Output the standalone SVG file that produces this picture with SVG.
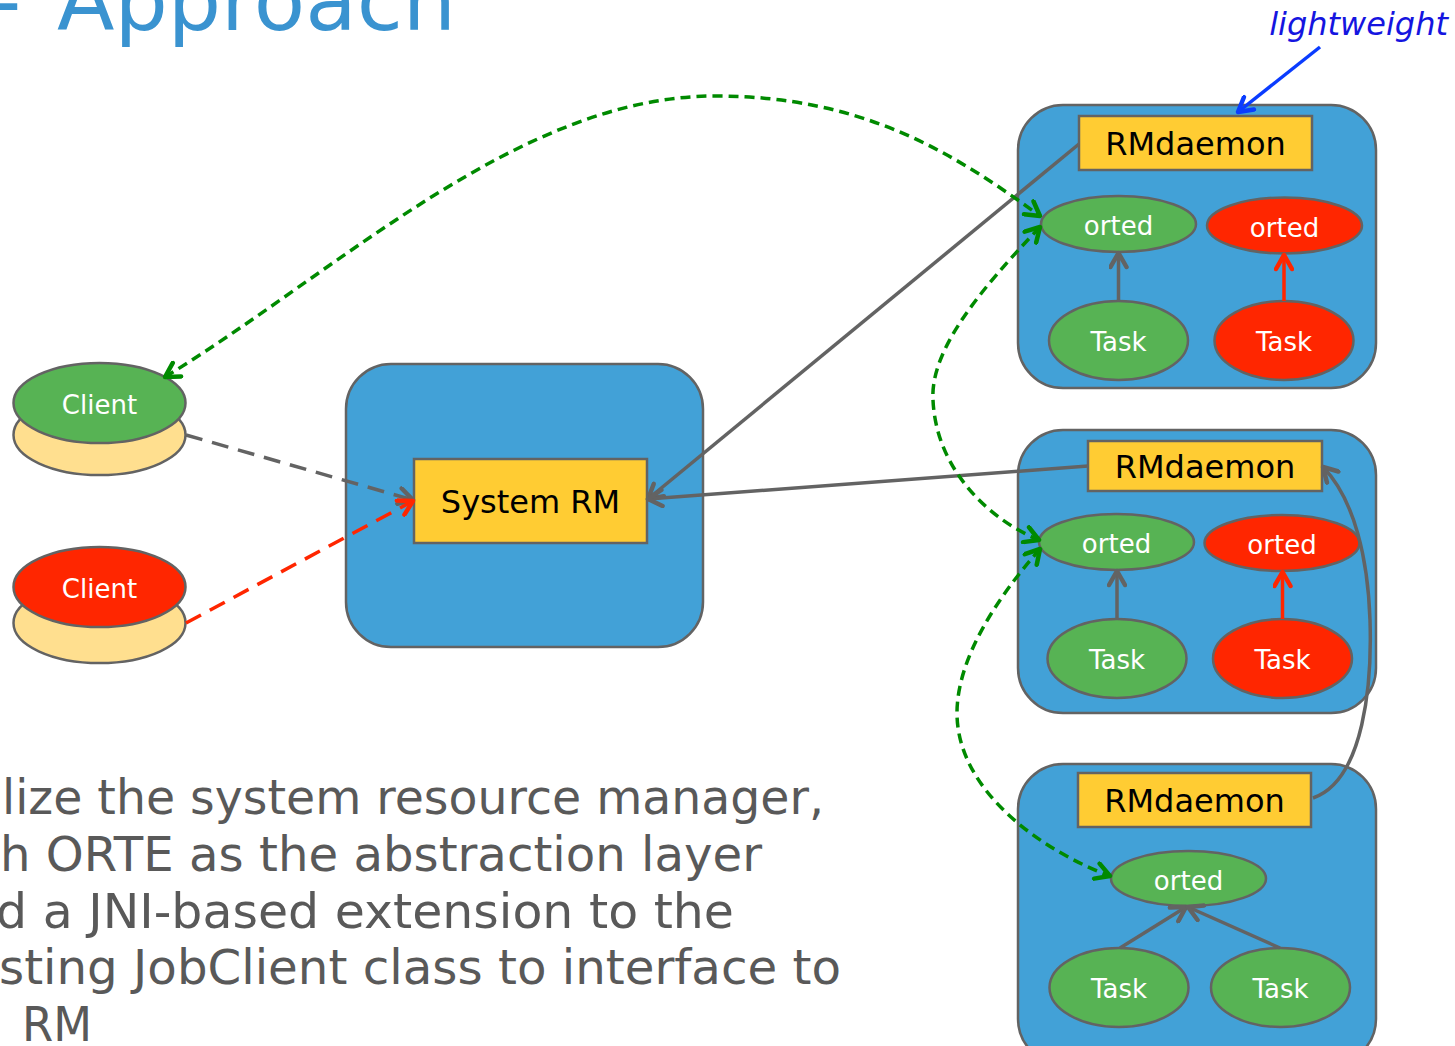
<svg xmlns="http://www.w3.org/2000/svg" width="1455" height="1046" viewBox="0 0 1455 1046">
<style>
.cont{fill:#42A1D7;stroke:#636363;stroke-width:2.5}
.lbl{fill:#FFCC33;stroke:#636363;stroke-width:2.5}
.g{fill:#57B354;stroke:#636363;stroke-width:2.5}
.r{fill:#FF2600;stroke:#636363;stroke-width:2.5}
.y{fill:#FFDF8F;stroke:#636363;stroke-width:2.5}
.tb{font-family:"DejaVu Sans",Verdana,sans-serif;font-size:32px;fill:#000;text-anchor:middle}
.tw{font-family:"DejaVu Sans",Verdana,sans-serif;font-size:26px;fill:#fff;text-anchor:middle}
.body{font-family:"DejaVu Sans",Verdana,sans-serif;font-size:47.5px;fill:#595959}
.cg{fill:none;stroke:#636363;stroke-width:3.5}
.dg{fill:none;stroke:#008A00;stroke-width:3.5;stroke-dasharray:10 6}
.mk{fill:none;stroke-width:4.5;stroke-linecap:round;stroke-linejoin:round}
</style>
<defs>
<marker id="mgray" viewBox="0 0 20 20" refX="17" refY="10" markerWidth="20" markerHeight="20" markerUnits="userSpaceOnUse" orient="auto-start-reverse"><path class="mk" d="M3,2 L17,10 L3,18" stroke="#636363"/></marker>
<marker id="mred" viewBox="0 0 20 20" refX="17" refY="10" markerWidth="20" markerHeight="20" markerUnits="userSpaceOnUse" orient="auto-start-reverse"><path class="mk" d="M3,2 L17,10 L3,18" stroke="#FF2600"/></marker>
<marker id="mgreen" viewBox="0 0 20 20" refX="17" refY="10" markerWidth="20" markerHeight="20" markerUnits="userSpaceOnUse" orient="auto-start-reverse"><path class="mk" d="M3,2 L17,10 L3,18" stroke="#008A00"/></marker>
<marker id="mblue" viewBox="0 0 20 20" refX="17" refY="10" markerWidth="20" markerHeight="20" markerUnits="userSpaceOnUse" orient="auto"><path class="mk" d="M3,2 L17,10 L3,18" stroke="#0A3CFF"/></marker>
</defs>

<text id="title" y="30" font-family="DejaVu Sans,Verdana,sans-serif" font-size="84" fill="#3A93D0"><tspan x="-9">-</tspan><tspan x="57">Approach</tspan></text>
<text id="lightweight" x="1448" y="35" text-anchor="end" font-family="DejaVu Sans,Verdana,sans-serif" font-size="32" font-style="italic" fill="#1515E0">lightweight</text>

<g id="body-text" class="body">
<text x="2" y="814" textLength="822" lengthAdjust="spacingAndGlyphs">lize the system resource manager,</text>
<text x="0" y="871" textLength="762" lengthAdjust="spacingAndGlyphs">h ORTE as the abstraction layer</text>
<text x="-4" y="928" textLength="738" lengthAdjust="spacingAndGlyphs">d a JNI-based extension to the</text>
<text x="-1" y="984" textLength="842" lengthAdjust="spacingAndGlyphs">sting JobClient class to interface to</text>
<text x="22" y="1041" textLength="70" lengthAdjust="spacingAndGlyphs">RM</text>
</g>

<g id="client-green">
<ellipse class="y" cx="99.5" cy="435" rx="86" ry="40"/>
<ellipse class="g" cx="99.5" cy="403" rx="86" ry="40"/>
<text class="tw" x="99.5" y="414">Client</text>
</g>
<g id="client-red">
<ellipse class="y" cx="99.5" cy="623" rx="86" ry="40"/>
<ellipse class="r" cx="99.5" cy="587" rx="86" ry="40"/>
<text class="tw" x="99.5" y="598">Client</text>
</g>

<g id="system-rm-container"><rect class="cont" x="346" y="364" width="357" height="283" rx="45"/></g>
<g id="system-rm"><rect class="lbl" x="414" y="459" width="233" height="84"/><text class="tb" x="530.5" y="513">System RM</text></g>

<g id="node1">
<rect class="cont" x="1018" y="105" width="358" height="283" rx="45"/>
<rect class="lbl" x="1079" y="116" width="233" height="54"/>
<text class="tb" x="1195.5" y="155">RMdaemon</text>
<ellipse class="g" cx="1118.5" cy="224" rx="77.5" ry="28"/><text class="tw" x="1118.5" y="235">orted</text>
<ellipse class="r" cx="1284.5" cy="225.5" rx="77.5" ry="28"/><text class="tw" x="1284.5" y="236.5">orted</text>
<ellipse class="g" cx="1118.5" cy="340.5" rx="69.5" ry="39.5"/><text class="tw" x="1118.5" y="351">Task</text>
<ellipse class="r" cx="1284" cy="340.5" rx="69.5" ry="39.5"/><text class="tw" x="1284" y="351">Task</text>
</g>

<g id="node2">
<rect class="cont" x="1018" y="430" width="358" height="283" rx="45"/>
<rect class="lbl" x="1088" y="441" width="234" height="50"/>
<text class="tb" x="1205" y="478">RMdaemon</text>
<ellipse class="g" cx="1116.5" cy="542" rx="77.5" ry="28"/><text class="tw" x="1116.5" y="553">orted</text>
<ellipse class="r" cx="1282" cy="543" rx="77.5" ry="28"/><text class="tw" x="1282" y="554">orted</text>
<ellipse class="g" cx="1117" cy="658.5" rx="69.5" ry="39.5"/><text class="tw" x="1117" y="669">Task</text>
<ellipse class="r" cx="1282.5" cy="658.5" rx="69.5" ry="39.5"/><text class="tw" x="1282.5" y="669">Task</text>
</g>

<g id="node3">
<rect class="cont" x="1018" y="764" width="358" height="300" rx="45"/>
<rect class="lbl" x="1078" y="773" width="233" height="54"/>
<text class="tb" x="1194.5" y="812">RMdaemon</text>
<ellipse class="g" cx="1188.5" cy="878.5" rx="77.5" ry="27.5"/><text class="tw" x="1188.5" y="889.5">orted</text>
<ellipse class="g" cx="1119" cy="987.5" rx="69.5" ry="39.5"/><text class="tw" x="1119" y="998">Task</text>
<ellipse class="g" cx="1280.5" cy="987.5" rx="69.5" ry="39.5"/><text class="tw" x="1280.5" y="998">Task</text>
</g>

<g id="connectors">
<path d="M186 435 L413 500" fill="none" stroke="#636363" stroke-width="3.5" stroke-dasharray="17 10" marker-end="url(#mgray)"/>
<path d="M186 623 L413 501" fill="none" stroke="#FF2600" stroke-width="3.5" stroke-dasharray="17 10" marker-end="url(#mred)"/>
<path class="cg" d="M1079 144 L648 499" marker-end="url(#mgray)"/>
<path class="cg" d="M1088 466 L648 499" marker-end="url(#mgray)"/>
<path class="cg" d="M1313 798 C1365 780 1372 680 1370 620 C1368 560 1355 500 1323 467" marker-end="url(#mgray)"/>
<path class="dg" d="M165 377 C340 270 520 96 715 96 C860 96 950 150 1040 216" marker-start="url(#mgreen)" marker-end="url(#mgreen)"/>
<path class="dg" d="M1040 227 C980 290 930 350 933 400 C936 470 990 520 1039 540" marker-start="url(#mgreen)" marker-end="url(#mgreen)"/>
<path class="dg" d="M1040 549 C995 600 957 660 957 713 C957 790 1040 850 1110 876" marker-start="url(#mgreen)" marker-end="url(#mgreen)"/>
<path class="cg" d="M1118.5 301 L1118.5 253" marker-end="url(#mgray)"/>
<path d="M1284 301 L1284 255" fill="none" stroke="#FF2600" stroke-width="3.5" marker-end="url(#mred)"/>
<path class="cg" d="M1117 619 L1117 571" marker-end="url(#mgray)"/>
<path d="M1282.5 619 L1282.5 572" fill="none" stroke="#FF2600" stroke-width="3.5" marker-end="url(#mred)"/>
<path class="cg" d="M1120 948 L1186 907" marker-end="url(#mgray)"/>
<path class="cg" d="M1280 948 L1188 907" marker-end="url(#mgray)"/>
<path d="M1320 47 L1238 112" fill="none" stroke="#0A3CFF" stroke-width="3.5" marker-end="url(#mblue)"/>
</g>
</svg>
